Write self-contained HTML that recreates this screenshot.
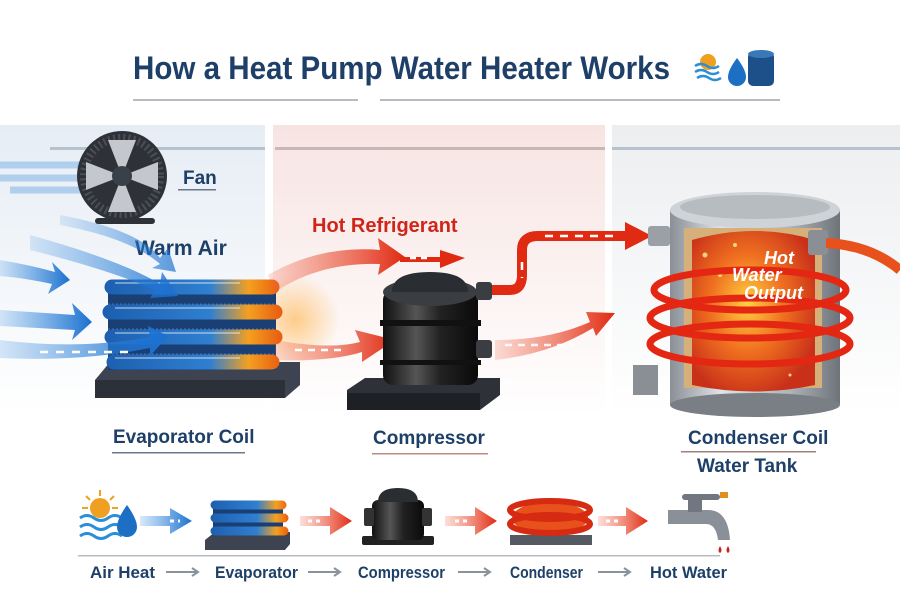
<!DOCTYPE html>
<html><head><meta charset="utf-8"><style>
html,body{margin:0;padding:0;background:#fff;width:900px;height:600px;overflow:hidden}
text{font-family:"Liberation Sans Narrow","Liberation Sans",sans-serif;font-weight:bold}
</style></head><body>
<svg width="900" height="600" viewBox="0 0 900 600" xmlns="http://www.w3.org/2000/svg">
<defs>
<linearGradient id="pl" x1="0" y1="0" x2="0" y2="1"><stop offset="0" stop-color="#e6edf5"/><stop offset="1" stop-color="#fff"/></linearGradient>
<linearGradient id="pm" x1="0" y1="0" x2="0" y2="1"><stop offset="0" stop-color="#f7e4e2"/><stop offset="1" stop-color="#fff"/></linearGradient>
<linearGradient id="pr" x1="0" y1="0" x2="0" y2="1"><stop offset="0" stop-color="#eceef0"/><stop offset="1" stop-color="#fff"/></linearGradient>
<linearGradient id="coil" gradientUnits="userSpaceOnUse" x1="105" y1="0" x2="280" y2="0"><stop offset="0" stop-color="#1d5fb0"/><stop offset="0.6" stop-color="#2f7fd0"/><stop offset="0.82" stop-color="#f4a020"/><stop offset="1" stop-color="#e86010"/></linearGradient>
<linearGradient id="coil2" gradientUnits="userSpaceOnUse" x1="210" y1="0" x2="288" y2="0"><stop offset="0" stop-color="#1d5fb0"/><stop offset="0.6" stop-color="#2f7fd0"/><stop offset="0.85" stop-color="#f4a020"/><stop offset="1" stop-color="#e86010"/></linearGradient>
<linearGradient id="comp" x1="0" y1="0" x2="1" y2="0"><stop offset="0" stop-color="#111"/><stop offset="0.35" stop-color="#555"/><stop offset="0.6" stop-color="#222"/><stop offset="1" stop-color="#0a0a0a"/></linearGradient>
<linearGradient id="steel" x1="0" y1="0" x2="1" y2="0"><stop offset="0" stop-color="#8a8f96"/><stop offset="0.3" stop-color="#e0e3e6"/><stop offset="0.7" stop-color="#b0b5ba"/><stop offset="1" stop-color="#6e737a"/></linearGradient>
<radialGradient id="hot" cx="0.45" cy="0.45" r="0.6"><stop offset="0" stop-color="#ffd040"/><stop offset="0.5" stop-color="#f07020"/><stop offset="1" stop-color="#c8301a"/></radialGradient>
<radialGradient id="glow" cx="0.5" cy="0.5" r="0.5"><stop offset="0" stop-color="#ffb040" stop-opacity="0.6"/><stop offset="1" stop-color="#ffb040" stop-opacity="0"/></radialGradient>
<linearGradient id="redar" x1="0" y1="0" x2="1" y2="0"><stop offset="0" stop-color="#f06040" stop-opacity="0.2"/><stop offset="1" stop-color="#e02a12"/></linearGradient>
<linearGradient id="bluar" x1="0" y1="0" x2="1" y2="0"><stop offset="0" stop-color="#3a8ee0" stop-opacity="0.2"/><stop offset="1" stop-color="#1a70d0"/></linearGradient>
</defs>

<rect x="0" y="125" width="265" height="290" fill="url(#pl)"/>
<rect x="273" y="125" width="332" height="290" fill="url(#pm)"/>
<rect x="612" y="125" width="288" height="290" fill="url(#pr)"/>
<rect x="50" y="147" width="215" height="3" fill="#b7c2cf"/>
<rect x="275" y="147" width="330" height="3" fill="#c9b7b5"/>
<rect x="612" y="147" width="290" height="3" fill="#b7c2cf"/>

<text x="133" y="79" font-size="32" fill="#1d3f68" textLength="537" lengthAdjust="spacingAndGlyphs">How a Heat Pump Water Heater Works</text>
<rect x="133" y="99" width="225" height="2" fill="#b8bcc2"/>
<rect x="380" y="99" width="400" height="2" fill="#b8bcc2"/>
<circle cx="708" cy="62" r="8" fill="#f0a020"/>
<path d="M695 66 q6 -4 12 0 t12 0 M695 72 q6 -4 12 0 t12 0 M697 78 q6 -4 12 0 t12 0" stroke="#2a8ed8" stroke-width="2.5" fill="none"/>
<path d="M737 58 q-9 12 -9 19 a9 9 0 0 0 18 0 q0 -7 -9 -19z" fill="#1d6fc4"/>
<rect x="748" y="52" width="26" height="34" rx="5" fill="#1d4f88"/>
<ellipse cx="761" cy="54" rx="13" ry="4" fill="#3a78b8"/>

<path d="M0 165 h80 M0 178 h80 M10 190 h80" stroke="#8bb8e8" stroke-width="7" opacity="0.6"/>
<circle cx="122" cy="176" r="45" fill="#2e3238"/>
<circle cx="122" cy="176" r="38" fill="none" stroke="#4a4f57" stroke-width="8" stroke-dasharray="2 3"/>
<g fill="#c4c8cd"><path d="M122 176 L108 140 L136 140z"/><path d="M122 176 L158 162 L158 190z"/><path d="M122 176 L108 212 L136 212z"/><path d="M122 176 L86 162 L86 190z"/></g>
<circle cx="122" cy="176" r="10" fill="#3a4048"/>
<rect x="95" y="218" width="60" height="6" rx="3" fill="#2e3238"/>
<text x="183" y="184" font-size="19" fill="#1d3f68">Fan</text>
<rect x="178" y="189" width="38" height="1.5" fill="#6a7888"/>
<text x="135" y="255" font-size="21" fill="#1d3f68">Warm Air</text>

<!-- evaporator -->
<circle cx="295" cy="320" r="45" fill="url(#glow)"/>
<path d="M95 380 L110 362 L300 362 L300 385 L285 398 L95 398z" fill="#3d4350"/>
<path d="M95 380 L285 380 L285 398 L95 398z" fill="#2b3039"/>
<g fill="#1a3f75"><rect x="108" y="285" width="168" height="85"/></g>
<g stroke="#5a7fb0" stroke-width="1" opacity="0.7"><path d="M108 304 H276 M108 329 H276 M108 354 H276" stroke-dasharray="2 2"/></g>
<g stroke="url(#coil)" stroke-width="15" fill="none" stroke-linecap="round">
<path d="M112 287 H272"/><path d="M110 312 H275"/><path d="M112 337 H275"/><path d="M114 362 H272"/>
</g>
<g stroke="#fff" stroke-width="1.5" opacity="0.5"><path d="M115 283 H240 M115 308 H240 M115 333 H240 M115 358 H240"/></g>

<!-- blue arrows -->
<g fill="url(#bluar)">
<path d="M0 260 Q30 265 55 272 L52 262 L70 280 L48 294 L52 284 Q25 278 0 276z"/>
<path d="M30 235 Q120 260 160 284 L162 272 L178 296 L150 298 L155 290 Q110 270 30 250z" opacity="0.85"/>
<path d="M0 310 L75 315 L72 303 L92 322 L72 340 L75 330 L0 326z"/>
<path d="M0 340 Q80 350 150 337 L148 326 L168 336 L150 356 L150 348 Q80 362 0 358z"/>
<path d="M60 215 Q140 230 160 258 L168 248 L176 272 L152 268 L160 264 Q130 238 60 225z" opacity="0.7"/>
</g>
<path d="M40 352 h90" stroke="#fff" stroke-width="2.5" stroke-dasharray="8 8"/>
<text x="113" y="443" font-size="19" fill="#1d3f68">Evaporator Coil</text>
<rect x="112" y="452" width="133" height="1.5" fill="#6a7888"/>

<path d="M268 275 Q320 245 380 250 L378 238 L405 257 L378 275 L380 264 Q320 262 275 292z" fill="url(#redar)"/>
<path d="M400 257 H440 L440 250 L465 258 L440 268 L440 262 H400z" fill="#e02a12"/>
<path d="M410 258 h20" stroke="#fff" stroke-width="2.5" stroke-dasharray="6 5"/>
<text x="312" y="232" font-size="20" fill="#d0261a">Hot Refrigerant</text>
<path d="M275 340 Q330 350 360 342 L355 330 L395 340 L362 362 L362 352 Q330 362 275 360z" fill="url(#redar)"/>
<path d="M295 350 h50" stroke="#fff" stroke-width="2.5" stroke-dasharray="7 6"/>

<!-- compressor -->
<path d="M347 390 L365 378 L500 378 L500 395 L480 410 L347 410z" fill="#2e3238"/>
<rect x="347" y="393" width="133" height="17" fill="#1d2025"/>
<rect x="383" y="290" width="95" height="95" rx="10" fill="url(#comp)"/>
<ellipse cx="430" cy="292" rx="47" ry="14" fill="#3a3d42"/>
<path d="M392 292 Q392 272 430 272 Q468 272 468 292z" fill="#2a2d31"/>
<rect x="380" y="320" width="101" height="6" fill="#111"/>
<rect x="380" y="360" width="101" height="5" fill="#111"/>
<rect x="476" y="282" width="16" height="18" rx="3" fill="#3a3d42"/>
<rect x="476" y="340" width="16" height="18" rx="3" fill="#3a3d42"/>
<text x="373" y="444" font-size="19" fill="#1d3f68">Compressor</text>
<rect x="372" y="453" width="116" height="1.5" fill="#c08880"/>

<path d="M492 290 H510 Q522 290 522 275 V250 Q522 236 538 236 H630" stroke="#e02a12" stroke-width="10" fill="none"/>
<path d="M545 236 H620 M522 262 V278" stroke="#fff" stroke-width="2.5" stroke-dasharray="8 7" fill="none"/>
<path d="M625 222 L652 236 L625 250z" fill="#e02a12"/>
<rect x="648" y="226" width="22" height="20" rx="3" fill="#9aa0a6"/>
<path d="M495 340 Q550 340 590 322 L586 312 L615 313 L596 336 L593 328 Q550 354 495 360z" fill="url(#redar)"/>
<path d="M505 345 h70" stroke="#fff" stroke-width="2.5" stroke-dasharray="7 6" opacity="0.9"/>

<!-- tank -->
<rect x="633" y="365" width="25" height="30" fill="#8a8f96"/>
<rect x="670" y="210" width="170" height="195" fill="url(#steel)"/>
<ellipse cx="755" cy="405" rx="85" ry="12" fill="#7a7f86"/>
<ellipse cx="755" cy="210" rx="85" ry="18" fill="#cfd3d7"/>
<ellipse cx="755" cy="207" rx="75" ry="12" fill="#b7bcc1"/>
<rect x="684" y="228" width="138" height="160" fill="#d6b07a"/>
<path d="M692 240 Q755 222 815 240 V385 Q755 398 692 385z" fill="url(#hot)"/>
<g fill="#ffe080" opacity="0.9"><circle cx="705" cy="255" r="2.5"/><circle cx="735" cy="245" r="2"/><circle cx="720" cy="275" r="2"/><circle cx="790" cy="375" r="1.5"/><circle cx="725" cy="365" r="1.5"/><circle cx="760" cy="300" r="2"/></g>
<g fill="none" stroke="#e32712" stroke-width="7">
<ellipse cx="750" cy="290" rx="96" ry="20"/>
<ellipse cx="750" cy="318" rx="100" ry="20"/>
<ellipse cx="750" cy="344" rx="100" ry="20"/>
</g>
<rect x="808" y="230" width="20" height="25" rx="3" fill="#8a8f96"/>
<path d="M826 243 Q870 245 900 270" stroke="#e8501c" stroke-width="10" fill="none"/>
<g font-style="italic" fill="#fff" font-size="18"><text x="764" y="264">Hot</text><text x="732" y="281">Water</text><text x="744" y="299">Output</text></g>
<text x="688" y="444" font-size="19" fill="#1d3f68">Condenser Coil</text>
<rect x="681" y="451" width="135" height="1.5" fill="#a08078"/>
<text x="697" y="472" font-size="19" fill="#1d3f68">Water Tank</text>

<!-- bottom strip -->
<circle cx="100" cy="508" r="10" fill="#f0a020"/>
<g stroke="#f0a020" stroke-width="2"><path d="M100 490v6M86 496l4 4M114 496l-4 4M82 508h6M112 508h6"/></g>
<path d="M80 518 q7 -5 14 0 t14 0 t14 0 M80 527 q7 -5 14 0 t14 0 t14 0 M80 536 q7 -5 14 0 t14 0 t14 0" stroke="#2a8ed8" stroke-width="3" fill="none"/>
<path d="M127 505 q-10 14 -10 22 a10 10 0 0 0 20 0 q0 -8 -10 -22z" fill="#1d6fc4"/>
<path d="M140 516 h30 v-8 l22 13 l-22 13 v-8 h-30z" fill="url(#bluar)"/>
<path d="M170 521 h10" stroke="#fff" stroke-width="3" stroke-dasharray="4 4"/>
<path d="M205 540 l10 -8 h75 v12 l-5 6 h-80z" fill="#3d4350"/>
<rect x="213" y="503" width="70" height="30" fill="#1a3f75"/>
<g stroke="url(#coil2)" stroke-width="9" stroke-linecap="round"><path d="M215 505 H282M215 518 H284M215 531 H284"/></g>
<path d="M300 516 h30 v-9 l22 14 l-22 14 v-9 h-30z" fill="url(#redar)"/>
<path d="M308 521 h14" stroke="#fff" stroke-width="3" stroke-dasharray="4 4"/>
<rect x="362" y="536" width="72" height="9" rx="2" fill="#222"/>
<rect x="372" y="500" width="52" height="40" rx="6" fill="url(#comp)"/>
<path d="M378 502 Q378 488 398 488 Q418 488 418 502z" fill="#2a2d31"/>
<rect x="364" y="508" width="10" height="18" rx="2" fill="#333"/><rect x="422" y="508" width="10" height="18" rx="2" fill="#333"/>
<path d="M445 516 h30 v-9 l22 14 l-22 14 v-9 h-30z" fill="url(#redar)"/>
<path d="M455 521 h14" stroke="#fff" stroke-width="3" stroke-dasharray="4 4"/>
<rect x="510" y="535" width="82" height="10" fill="#555a62"/>
<ellipse cx="550" cy="518" rx="38" ry="16" fill="#e8501c"/>
<g fill="none" stroke="#d62a12" stroke-width="6"><ellipse cx="550" cy="510" rx="40" ry="9"/><ellipse cx="550" cy="524" rx="40" ry="9"/></g>
<path d="M598 516 h28 v-9 l22 14 l-22 14 v-9 h-28z" fill="url(#redar)"/>
<path d="M606 521 h14" stroke="#fff" stroke-width="3" stroke-dasharray="4 4"/>
<path d="M668 510 h40 q20 0 22 30 h-12 q-2 -16 -12 -16 h-38z" fill="#8a9098"/>
<rect x="688" y="500" width="14" height="12" fill="#707780"/>
<rect x="682" y="494" width="38" height="6" rx="3" fill="#707780"/>
<rect x="720" y="492" width="8" height="6" fill="#e09020"/>
<path d="M720 546 q-3 5 0 7 q3 -2 0 -7zM728 546 q-3 5 0 7 q3 -2 0 -7z" fill="#d0201a"/>
<rect x="78" y="555" width="642" height="1.5" fill="#b8bcc2"/>
<g font-size="17" fill="#1d3f68">
<text x="90" y="578" textLength="65" lengthAdjust="spacingAndGlyphs">Air Heat</text>
<text x="215" y="578" textLength="83" lengthAdjust="spacingAndGlyphs">Evaporator</text>
<text x="358" y="578" textLength="87" lengthAdjust="spacingAndGlyphs">Compressor</text>
<text x="510" y="578" textLength="73" lengthAdjust="spacingAndGlyphs">Condenser</text>
<text x="650" y="578" textLength="77" lengthAdjust="spacingAndGlyphs">Hot Water</text>
</g>
<g stroke="#8a939c" stroke-width="2" fill="none"><path d="M166 572h32m-6 -4l6 4l-6 4"/><path d="M308 572h32m-6 -4l6 4l-6 4"/><path d="M458 572h32m-6 -4l6 4l-6 4"/><path d="M598 572h32m-6 -4l6 4l-6 4"/></g>
</svg>
</body></html>
